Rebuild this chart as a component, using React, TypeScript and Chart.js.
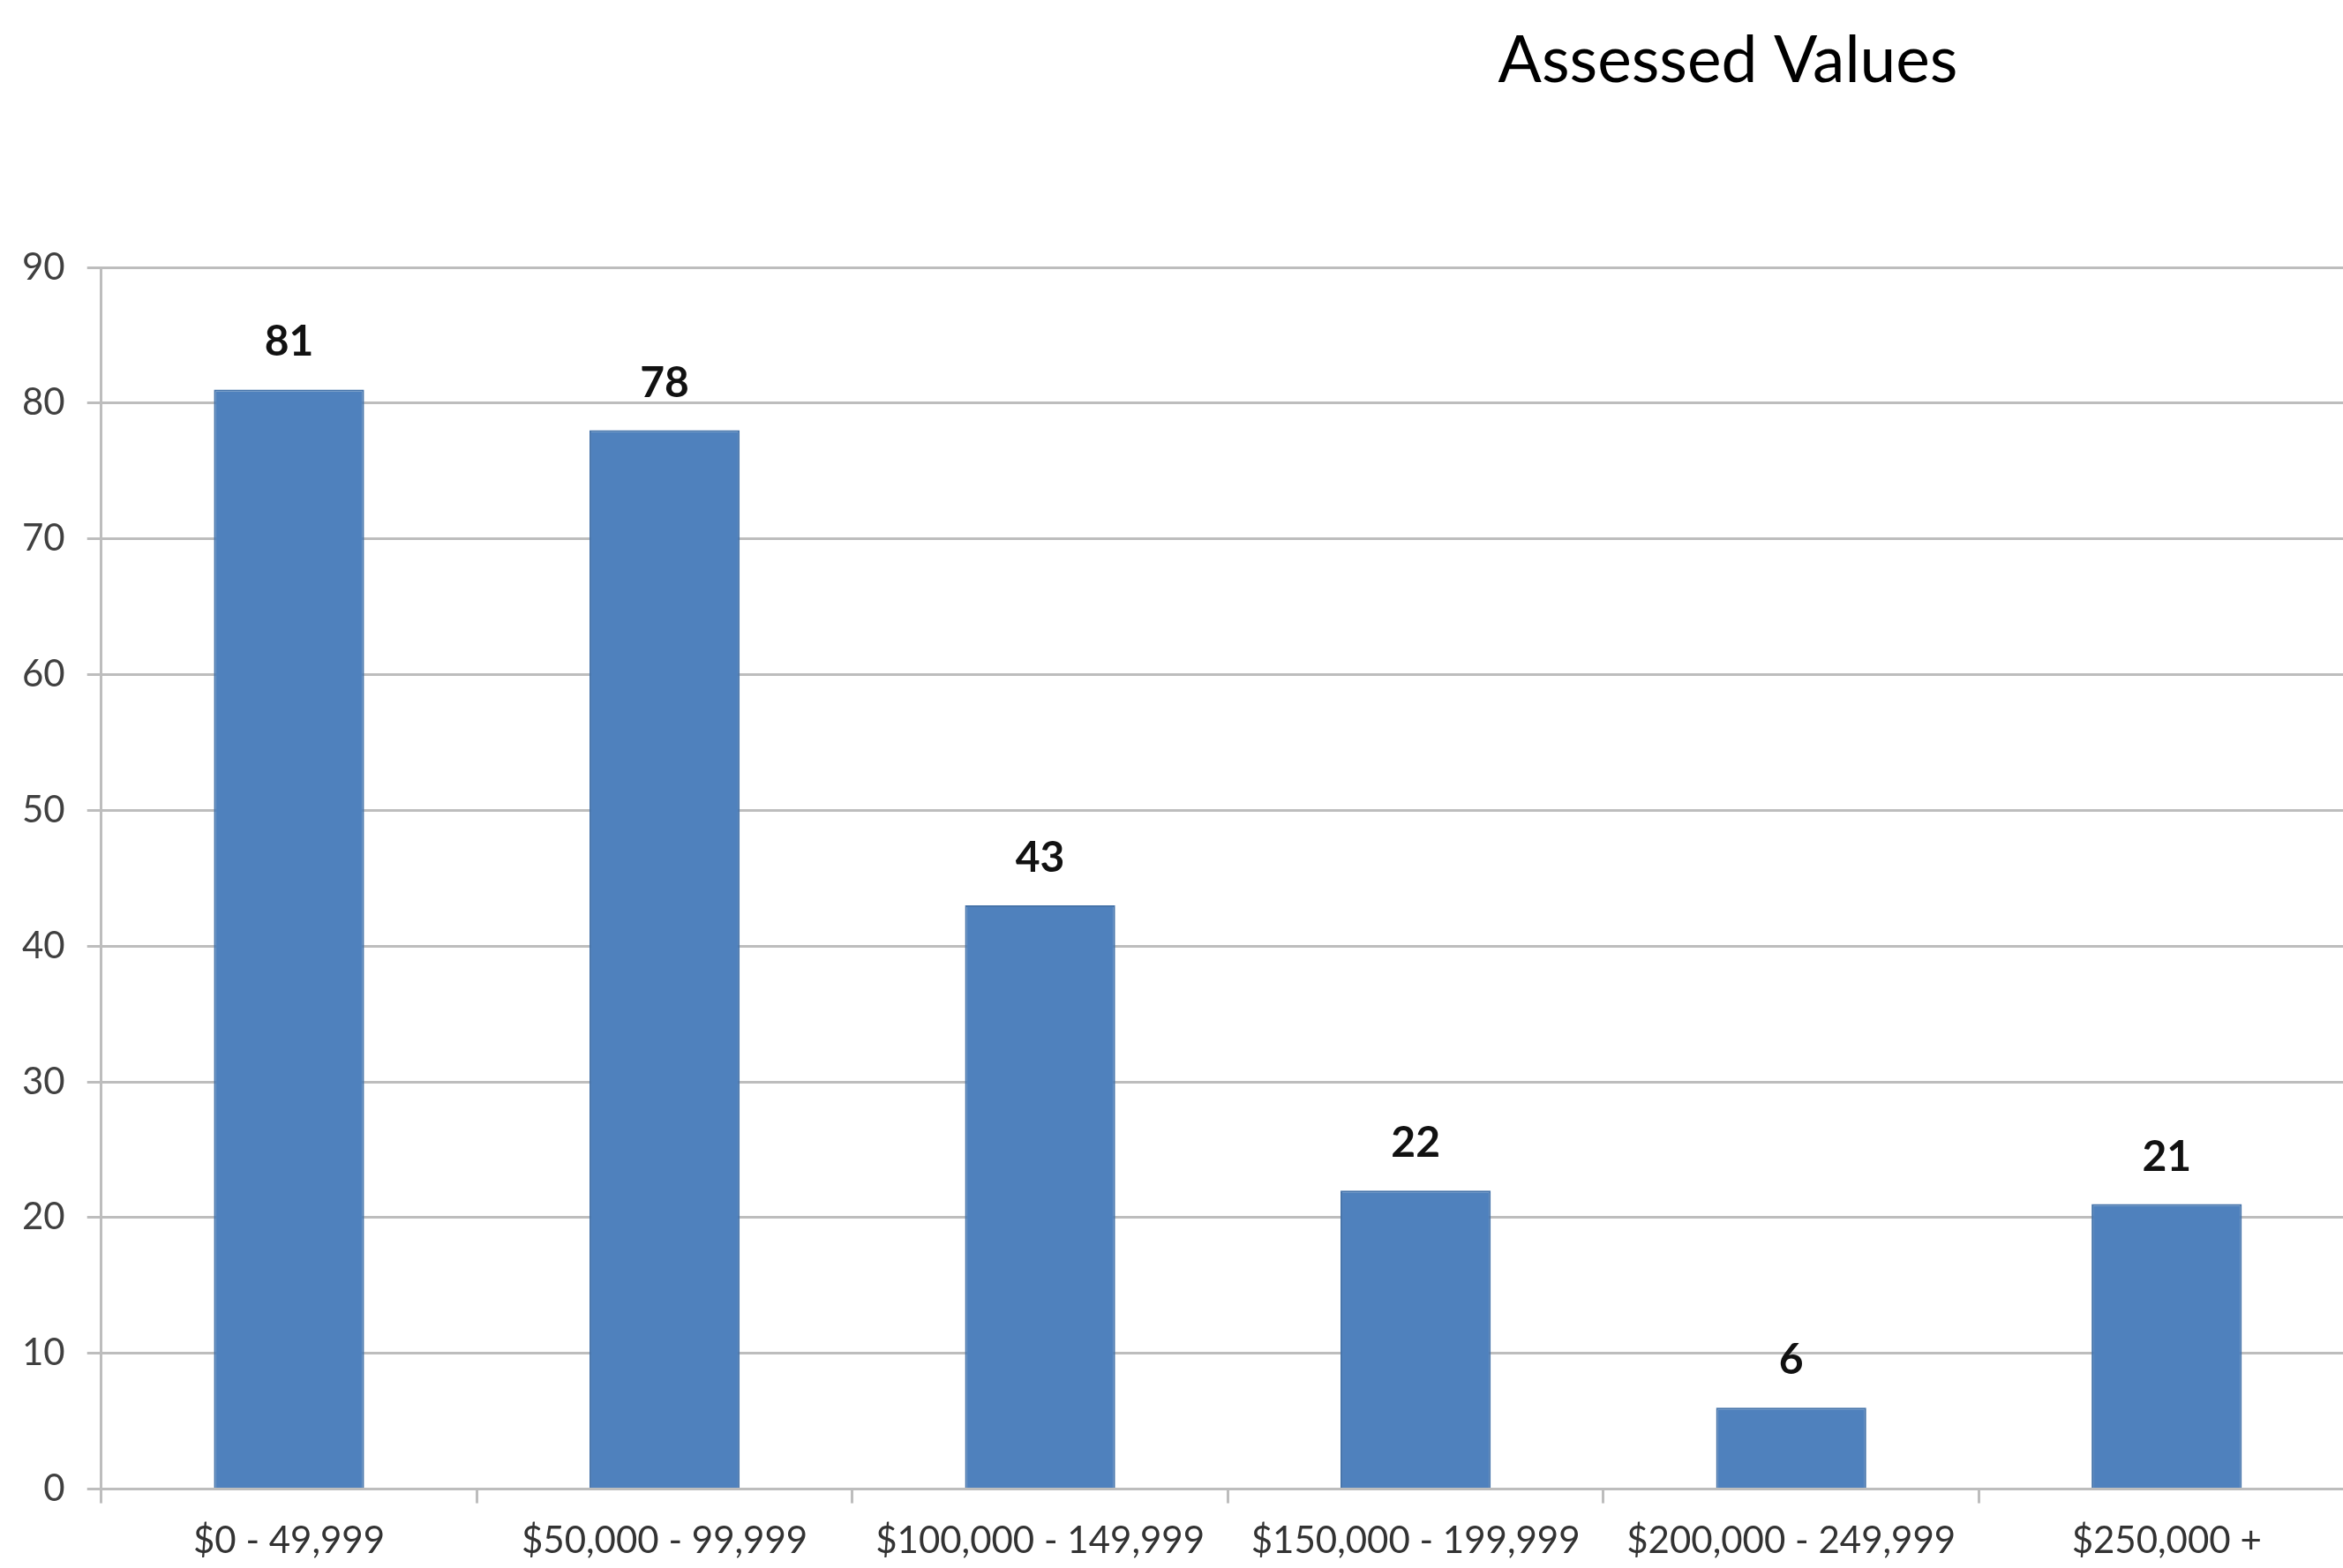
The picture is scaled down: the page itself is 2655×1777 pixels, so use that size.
import React, { useEffect, useRef } from "react";
import { Chart, registerables } from "chart.js";

Chart.register(...registerables);

const chartTitle = "Assessed Values";
const categories = [
  "$0 - 49,999",
  "$50,000 - 99,999",
  "$100,000 - 149,999",
  "$150,000 - 199,999",
  "$200,000 - 249,999",
  "$250,000 +",
];
const counts = [81, 78, 43, 22, 6, 21];
const yMin = 0;
const yMax = 90;
const yStep = 10;

const FONT = "Lato, 'Open Sans', sans-serif";
const BAR_COLOR = "#4F81BD";
const GRID_COLOR = "#BDBDBD";

const titlePlugin = {
  id: "customTitle",
  afterDraw(chart: any) {
    const ctx = chart.ctx;
    ctx.save();
    ctx.font = `73px ${FONT}`;
    ctx.fillStyle = "#000000";
    ctx.textAlign = "center";
    ctx.textBaseline = "alphabetic";
    ctx.fillText(chartTitle, 1958, 93);
    ctx.restore();
  },
};

const valueLabelPlugin = {
  id: "valueLabels",
  afterDatasetsDraw(chart: any) {
    const ctx = chart.ctx;
    const meta = chart.getDatasetMeta(0);
    const data = chart.data.datasets[0].data;
    ctx.save();
    ctx.font = `bold 48px ${FONT}`;
    ctx.fillStyle = "#111111";
    ctx.textAlign = "center";
    ctx.textBaseline = "alphabetic";
    meta.data.forEach((bar: any, i: number) => {
      ctx.fillText(String(data[i]), bar.x, bar.y - 38);
    });
    ctx.restore();
  },
};

export default function App() {
  const canvasRef = useRef<HTMLCanvasElement | null>(null);

  useEffect(() => {
    document.body.style.margin = "0";
    const canvas = canvasRef.current;
    if (!canvas) return;
    const chart = new Chart(canvas, {
      type: "bar",
      data: {
        labels: categories,
        datasets: [
          {
            data: counts,
            backgroundColor: BAR_COLOR,
            borderColor: "#4674AA",
            borderWidth: 2,
            barPercentage: 0.4,
            categoryPercentage: 1,
          },
        ],
      },
      options: {
        responsive: false,
        animation: false,
        devicePixelRatio: 1,
        layout: { padding: { top: 303, left: 0, right: 0, bottom: 6 } },
        plugins: {
          legend: { display: false },
          title: { display: false },
          tooltip: { enabled: false },
        },
        scales: {
          x: {
            grid: {
              display: true,
              drawOnChartArea: false,
              drawTicks: true,
              tickLength: 16,
              offset: true,
              color: GRID_COLOR,
              lineWidth: 3,
            },
            border: { display: true, color: GRID_COLOR, width: 3 },
            ticks: {
              font: { family: FONT, size: 42 },
              color: "#333333",
              padding: 18,
              maxRotation: 0,
              autoSkip: false,
            },
          },
          y: {
            min: yMin,
            max: yMax,
            ticks: {
              stepSize: yStep,
              font: { family: FONT, size: 42 },
              color: "#404040",
              padding: 25,
            },
            grid: {
              color: GRID_COLOR,
              lineWidth: 3,
              drawTicks: true,
              tickLength: 16,
            },
            border: { display: true, color: GRID_COLOR, width: 3 },
          },
        },
      },
      plugins: [titlePlugin, valueLabelPlugin],
    });
    return () => chart.destroy();
  }, []);

  return (
    <div
      style={{
        position: "absolute",
        left: 0,
        top: 0,
        width: 2655,
        height: 1777,
        overflow: "hidden",
        background: "#ffffff",
      }}
    >
      <canvas
        ref={canvasRef}
        width={2668}
        height={1796}
        style={{ display: "block", width: 2668, height: 1796 }}
      />
    </div>
  );
}
